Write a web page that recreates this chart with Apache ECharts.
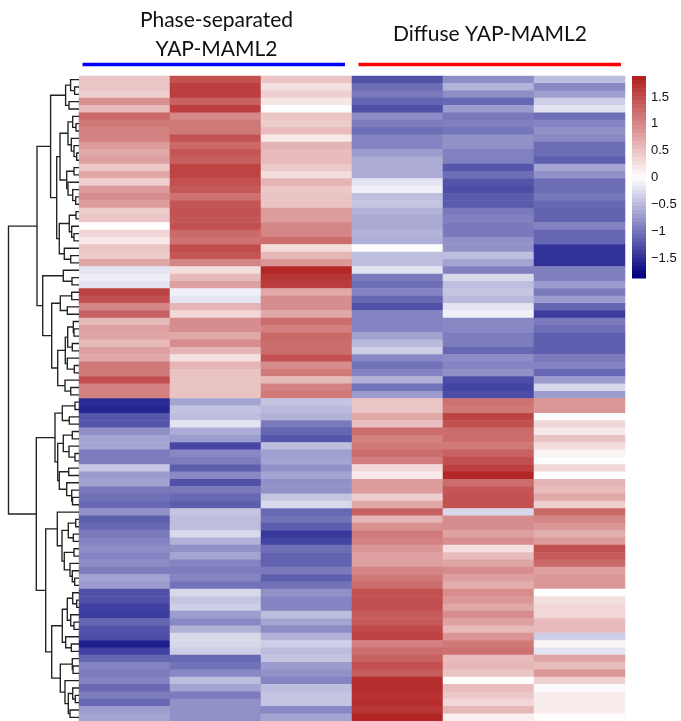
<!DOCTYPE html>
<html><head><meta charset="utf-8">
<style>html,body{margin:0;padding:0;background:#fff}#c{width:681px;height:721px}</style>
<script src="https://cdn.jsdelivr.net/npm/echarts@6/dist/echarts.min.js"></script>
</head><body><div id="c"></div>
<script>
const colNames = ['PS-1','PS-2','PS-3','Diffuse-1','Diffuse-2','Diffuse-3'];
const phase1 = [.5,.5,.42,.95,.58,1.3,1.15,1.08,1.08,.85,.75,.83,.48,.75,.43,.87,.98,.85,.44,.5,.02,.35,.2,.5,.45,.77,-.2,-.12,-.2,
 1.62,1.5,1.03,1.35,.6,.82,.78,.6,.83,.75,1.15,1.15,1.5,1.08,1.08,
 -1.55,-1.6,-1.25,-1.25,-.8,-.66,-.66,-.95,-.95,-.4,-.72,-.67,-.98,-1.03,-1.1,
 -.8,-1.18,-1.1,-.98,-.9,-.84,-.9,-.84,-.95,-.66,-.72,-1.28,-1.28,-1.4,-1.43,-1.12,-1.25,-1.3,-1.65,-1.4,-1.12,-.9,-.95,-.9,-1.1,-.95,-1.1,-.72,-.66];
const phase2 = [1.5,1.65,1.65,1.35,1.65,1.02,1.15,1.15,1.47,1.29,1.45,1.37,1.6,1.6,1.5,1.42,1.22,1.45,1.5,1.46,1.5,1.28,1.22,1.53,1.46,1.05,.3,.6,.83,
 -.1,-.2,.65,.35,.98,.98,.75,.98,.65,.27,.65,.52,.52,.52,.52,
 -.66,-.43,-.48,-.2,-.6,-.72,-1.35,-.87,-.95,-1.18,-.87,-1.28,-.98,-1.1,-1.18,
 -.42,-.48,-.48,-.27,-.56,-.8,-.66,-.9,-.95,-.9,-1.03,-.28,-.42,-.35,-.72,-.87,-.56,-.28,-.28,-.35,-1.1,-1.03,-.87,-.48,-.66,-.95,-.8,-.8,-.8];
const phase3 = [.5,.27,.42,.22,.03,.5,.44,.58,.2,.66,.58,.58,.48,.3,.65,.48,.52,.52,.85,.85,1.05,1.05,1.25,.3,.62,.9,1.85,1.72,1.67,
 .75,.98,.98,.75,1.25,1.09,1.3,1.25,1.25,1.5,.98,1.15,.6,1.08,1.15,
 -.42,-.5,-.56,-.98,-1.12,-1.25,-.48,-.7,-.66,-.8,-.66,-.8,-.8,-.42,-.27,
 -1.1,-1.03,-1.18,-1.45,-1.37,-1.06,-1.15,-1.15,-.98,-1.18,-1.03,-.8,-.9,-.9,-.48,-.66,-.84,-.56,-.35,-.48,-.42,-.72,-.8,-.9,-.48,-.42,-.42,-.87,-.66];
const diffuse1 = [-1.28,-1.06,-.98,-1.13,-1.28,-.84,-.95,-1.06,-.9,-.9,-.72,-.6,-.6,-.6,-.2,-.1,-.47,-.42,-.56,-.62,-.62,-.55,-.58,.03,-.48,-.48,-.2,-.98,-1.06,
 -.9,-1.12,-1.28,-.9,-.9,-.9,-.68,-.5,-.35,-.87,-1.03,-.9,-.56,-1.03,-.72,
 .5,.5,.75,.56,1.25,1.08,1.15,1.25,1.12,.33,.2,.85,.85,.42,.75,
 1.35,.65,.95,1.15,1.08,.9,.83,.83,1.05,1.15,1.25,1.5,1.5,1.5,1.4,1.42,1.55,1.62,1.08,1.25,1.35,1.5,1.4,1.8,1.8,1.75,1.8,1.72,1.87];
const diffuse2 = [-.82,-.55,-.82,-1.12,-.72,-.98,-.93,-1,-.8,-.8,-.92,-.92,-1.24,-1.06,-1.25,-1.3,-1.2,-1.2,-.98,-.92,-.98,-.98,-.8,-.8,-.47,-.66,-.93,-.27,-.47,
 -.42,-.5,-.2,-.1,-.87,-.87,-.95,-.95,-1.12,-.84,-.9,-.8,-1.3,-1.37,-1.3,
 1.22,1.15,1.6,1.5,1.25,1.25,1.15,1.35,1.5,1.65,1.85,1.25,1.45,1.48,1.48,
 -.28,.98,.98,.82,.98,.27,.58,.78,.98,.83,.7,.98,.9,.75,.98,.82,.6,.92,1.15,1.22,.58,.62,.5,.02,.57,.48,.35,.62,.15];
const diffuse3 = [-.48,-.87,-.7,-.35,-.2,-1.06,-.9,-.8,-.87,-1.07,-1.07,-1.17,-.66,-.8,-1.07,-1.07,-1,-1.1,-1.15,-1.15,-.9,-1.12,-1.12,-1.5,-1.5,-1.5,-.93,-.93,-.72,
 -.98,-.72,-1.12,-1.43,-.98,-1.06,-1.18,-1.18,-1.18,-.98,-.9,-1.1,-.72,-.28,-.72,
 .9,.9,-.02,.35,.2,.52,.3,.1,.03,.35,.02,.65,.58,.75,.42,
 1.3,1.05,.9,.7,.85,1.5,1.42,1.28,.83,.9,.9,.03,.28,.35,.35,.58,.58,-.35,.1,-.2,.78,.57,.9,.4,-.03,.18,.18,.18,.03];
const columns = [phase1,phase2,phase3,diffuse1,diffuse2,diffuse3];
const rowNames = phase1.map((_,i)=>'gene'+(i+1));
const _ = null; // a leaf of the row tree; leaves are taken in row order
const rowTree = [70.5,
 [42,
  [28.4,
   [13.4,[8.4,_,[4.4,_,_]],[10,_,_]],
   [22.3,
    [19,
     [11,[6.3,_,[3,_,_]],[7.7,_,[5,_,[2.3,_,_]]]],
     [12.3,[5,_,_],[11,_,[6.3,_,[3.3,_,_]]]]],
    [19.7,
     [9.7,[3,_,_],[7.3,_,[5,_,_]]],
     [14.7,_,[8.3,_,_]]]]],
  [36.3,
   [15.7,_,[7,_,_]],
   [27.3,
    [18.7,[7.3,_,_],[11.7,_,_]],
    [21.3,
     [13.7,
      [11.3,[5.7,_,[5,_,_]],[6.7,_,_]],
      [11.7,_,[4.7,_,_]]],
     [14,_,[8.3,_,_]]]]]],
 [42.7,
  [24,
   [16.7,[4,_,_],[9.7,_,_]],
   [21.3,
    [15.7,[6.7,_,_],[10,_,[4,_,_]]],
    [19.7,[10.3,_,_],[12.3,_,[7.3,_,[6.5,_,_]]]]]],
  [33.3,
   [21.7,_,
    [17,
     [10.7,[3.3,_,_],[5.7,_,_]],
     [14.7,[5,_,_],[9,_,[6.7,_,[4.3,_,_]]]]]],
   [27.3,
    [16.7,
     [11.7,[6.3,_,[2.3,_,_]],[8.3,_,[5,_,_]]],
     [13.3,_,[7.7,_,_]]],
    [18.7,
     [6.7,_,[6,_,_]],
     [14,_,[10.7,[6.3,_,[3.7,_,_]],[9,_,_]]]]]]]];
const scaleMin = -1.87, scaleMax = 1.89, scaleLevels = 50;
const scaleStops = ['#000080','#ffffff','#b22222'];
const scaleTicks = [-1.5,-1,-0.5,0,0.5,1,1.5];
const groupTitles = ['Phase-separated\nYAP-MAML2','Diffuse YAP-MAML2'];

const cells = [];
columns.forEach((c,x)=>c.forEach((v,y)=>cells.push([x,y,v])));

const branches = [];
let nextLeaf = 0;
function walk(n){
  if(n===null){ return {h:0,y:(nextLeaf++)+0.5}; }
  const a=walk(n[1]), b=walk(n[2]);
  branches.push([a.h,a.y,n[0],b.h,b.y]);
  return {h:n[0],y:(a.y+b.y)/2};
}
walk(rowTree);

function hex(c){return [1,3,5].map(i=>parseInt(c.substr(i,2),16));}
function ramp(t){
  const s=t*2, i=s<1?0:1, f=s-i, a=hex(scaleStops[i]), b=hex(scaleStops[i+1]);
  return 'rgb('+a.map((v,k)=>Math.round(v+(b[k]-v)*f)).join(',')+')';
}
const levels=[];
for(let i=0;i<scaleLevels;i++){
  const st=(scaleMax-scaleMin)/scaleLevels;
  levels.push([scaleMin+i*st,scaleMin+(i+1)*st,i/(scaleLevels-1)]);
}

const TOP=76, H=646.4;
const chart = echarts.init(document.getElementById('c'),null,{renderer:'canvas'});
chart.setOption({
  animation:false,
  backgroundColor:'#fff',
  title:[
    {text:groupTitles[0],left:216.5,top:6,padding:0,textAlign:'center',textStyle:{fontFamily:'Lato',fontSize:21,fontWeight:'normal',color:'#111',lineHeight:29}},
    {text:groupTitles[1],left:490,top:20,padding:0,textAlign:'center',textStyle:{fontFamily:'Lato',fontSize:21,fontWeight:'normal',color:'#111',lineHeight:29}}
  ],
  grid:[
    {left:79,top:TOP,width:546,height:H},
    {left:0,top:TOP,width:79,height:H},
    {left:632,top:TOP,width:14,height:202}
  ],
  xAxis:[
    {gridIndex:0,type:'category',data:colNames,show:false},
    {gridIndex:1,type:'value',min:0,max:79,inverse:true,show:false},
    {gridIndex:2,type:'value',min:0,max:1,show:false}
  ],
  yAxis:[
    {gridIndex:0,type:'category',data:rowNames,inverse:true,show:false},
    {gridIndex:1,type:'value',min:0,max:rowNames.length,inverse:true,show:false},
    {gridIndex:2,type:'value',min:scaleMin,max:scaleMax,position:'right',
     axisLine:{show:false},axisTick:{show:false},splitLine:{show:false},
     axisLabel:{show:true,customValues:scaleTicks,margin:5,align:'left',color:'#111',
       fontFamily:'Liberation Sans',fontSize:13,
       formatter:v=>String(v).replace('-','\u2212')}}
  ],
  visualMap:[{show:false,type:'continuous',seriesIndex:0,dimension:2,min:scaleMin,max:scaleMax,
    inRange:{color:scaleStops}}],
  series:[
    {type:'heatmap',xAxisIndex:0,yAxisIndex:0,data:cells,silent:true,progressive:0,itemStyle:{borderWidth:0}},
    {type:'custom',xAxisIndex:1,yAxisIndex:1,data:branches,silent:true,clip:false,
     encode:{x:[0,2,3],y:[1,4]},
     renderItem(p,api){
       const a=api.coord([api.value(0),api.value(1)]), m1=api.coord([api.value(2),api.value(1)]),
             m2=api.coord([api.value(2),api.value(4)]), b=api.coord([api.value(3),api.value(4)]);
       return {type:'polyline',shape:{points:[a,m1,m2,b]},style:{stroke:'#222222',lineWidth:1.35,fill:null}};
     }},
    {type:'custom',xAxisIndex:2,yAxisIndex:2,data:levels,silent:true,
     encode:{y:[0,1]},
     renderItem(p,api){
       const lo=api.coord([0,api.value(0)]), hi=api.coord([1,api.value(1)]);
       return {type:'rect',shape:{x:lo[0],y:hi[1],width:hi[0]-lo[0],height:lo[1]-hi[1]+0.5},
         style:{fill:ramp(api.value(2))}};
     }}
  ],
  graphic:[
    {type:'line',shape:{x1:82.5,y1:64.5,x2:345,y2:64.5},style:{stroke:'#0000ff',lineWidth:3.6}},
    {type:'line',shape:{x1:358.5,y1:64.5,x2:621,y2:64.5},style:{stroke:'#ff0000',lineWidth:3.6}}
  ]
});
</script></body></html>
